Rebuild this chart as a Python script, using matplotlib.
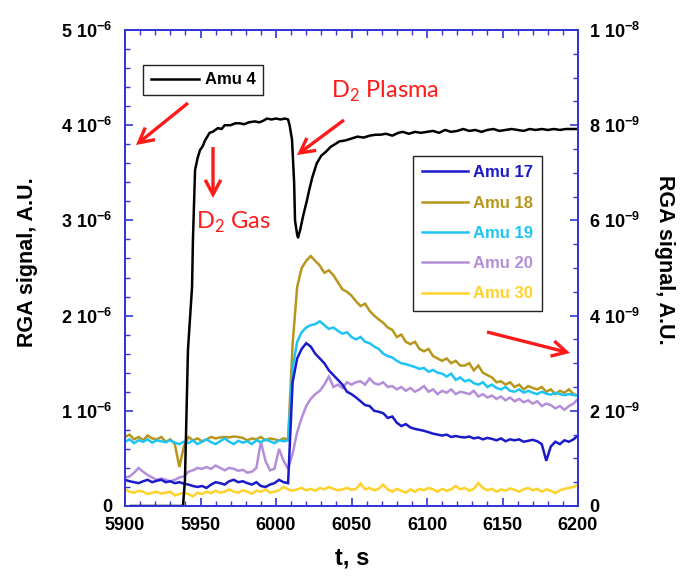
import numpy as np
import matplotlib
matplotlib.use("Agg")
import matplotlib.pyplot as plt
from matplotlib.patches import FancyArrowPatch
from matplotlib.ticker import FixedLocator, FuncFormatter, MultipleLocator

# ---------------- data ----------------
# Amu 4 (left axis, units of 1e-6 A.U.)
t_amu4 = [5904, 5910, 5915, 5920, 5925, 5930, 5935, 5938.4, 5939.7, 5941.7, 5944.4, 5945,
          5946.4, 5948, 5949.7, 5951.5, 5953, 5956, 5958, 5961.6, 5964, 5966, 5970, 5973,
          5976, 5979, 5982, 5986, 5989, 5992, 5994, 5997, 6000, 6003, 6006, 6008, 6009,
          6010.6, 6012, 6012.6, 6014, 6014.6, 6016, 6018, 6020.5, 6022, 6024, 6027, 6030,
          6033, 6036, 6039, 6042, 6046, 6050, 6054, 6058, 6062, 6066, 6069, 6073, 6077,
          6081, 6084, 6088, 6092, 6096, 6100, 6104, 6108, 6112, 6116, 6120, 6124, 6128,
          6132, 6136, 6140, 6144, 6148, 6152, 6156, 6160, 6164, 6168, 6172, 6176, 6180,
          6184, 6188, 6192, 6196, 6200]
amu4 = [0.0, 0.0, 0.0, 0.0, 0.0, 0.0, 0.0, 0.0, 0.27, 1.64, 2.3, 2.8,
        3.53, 3.65, 3.74, 3.78, 3.84, 3.92, 3.93, 3.97, 3.96, 4.0, 4.0, 4.02,
        4.02, 4.01, 4.03, 4.04, 4.03, 4.05, 4.07, 4.06, 4.07, 4.06, 4.07, 4.06, 4.0,
        3.85, 3.4, 3.0, 2.85, 2.82, 2.9, 3.05, 3.21, 3.32, 3.45, 3.6, 3.68,
        3.72, 3.77, 3.8, 3.83, 3.84, 3.86, 3.88, 3.87, 3.89, 3.9, 3.9, 3.91, 3.89,
        3.92, 3.93, 3.91, 3.93, 3.92, 3.93, 3.94, 3.92, 3.95, 3.93, 3.94, 3.96, 3.94,
        3.95, 3.93, 3.95, 3.96, 3.94, 3.95, 3.96, 3.95, 3.94, 3.96, 3.95, 3.96, 3.95,
        3.96, 3.95, 3.96, 3.96, 3.96]

# right-axis series (units of 1e-9 A.U.), sampled every 3 s from 5900 to 6200
t_rga = list(range(5900, 6201, 3))
amu17 = [0.55, 0.52, 0.5, 0.48, 0.52, 0.55, 0.5, 0.53, 0.55, 0.5,
         0.52, 0.48, 0.5, 0.47, 0.45, 0.42, 0.4, 0.42, 0.38, 0.45,
         0.5, 0.48, 0.45, 0.52, 0.55, 0.5, 0.52, 0.48, 0.45, 0.5,
         0.42, 0.4, 0.45, 0.48, 0.55, 0.5, 0.48, 2.6, 3.1, 3.3,
         3.42, 3.35, 3.2, 3.1, 3.0, 2.85, 2.75, 2.65, 2.55, 2.4,
         2.35, 2.28, 2.2, 2.12, 2.1, 2.0, 1.98, 1.95, 1.85, 1.88,
         1.75, 1.68, 1.72, 1.65, 1.62, 1.6, 1.58, 1.55, 1.52, 1.5,
         1.48, 1.5, 1.45, 1.47, 1.45, 1.44, 1.46, 1.42, 1.44, 1.4,
         1.43, 1.41, 1.38, 1.42, 1.36, 1.4, 1.38, 1.4, 1.35, 1.37,
         1.39, 1.36, 1.3, 0.95, 1.25, 1.35, 1.3, 1.38, 1.35, 1.4,
         1.48]
amu18 = [1.45, 1.5, 1.4, 1.45, 1.38, 1.48, 1.42, 1.4, 1.45, 1.35,
         1.4, 1.3, 0.82, 1.25, 1.45, 1.38, 1.42, 1.36, 1.4, 1.45,
         1.42, 1.44, 1.45, 1.44, 1.46, 1.45, 1.43, 1.38, 1.42, 1.4,
         1.45, 1.38, 1.42, 1.4, 1.38, 1.42, 1.4, 3.4, 4.6, 5.0,
         5.15, 5.25, 5.15, 5.05, 4.9, 4.95, 4.85, 4.7, 4.55, 4.5,
         4.42, 4.3, 4.2, 4.25, 4.1, 4.0, 3.92, 3.85, 3.75, 3.7,
         3.55, 3.6, 3.45, 3.4, 3.45, 3.3, 3.25, 3.3, 3.15, 3.1,
         3.05, 3.1, 3.0, 3.05, 2.95, 2.95, 3.0, 2.85, 2.95, 2.8,
         2.75, 2.7, 2.6, 2.62, 2.55, 2.6, 2.5, 2.55, 2.45, 2.52,
         2.48, 2.45, 2.5, 2.4, 2.45, 2.35, 2.42, 2.38, 2.45, 2.35,
         2.32]
amu19 = [1.35, 1.4, 1.32, 1.38, 1.35, 1.4, 1.33, 1.38, 1.36, 1.34,
         1.38, 1.33, 1.3, 1.35, 1.32, 1.38, 1.3, 1.35, 1.4, 1.34,
         1.3, 1.36, 1.42, 1.35, 1.3, 1.37, 1.33, 1.36, 1.3, 1.38,
         1.34, 1.4, 1.36, 1.32, 1.38, 1.36, 1.38, 2.9, 3.45, 3.65,
         3.75, 3.8, 3.82, 3.88, 3.8, 3.72, 3.75, 3.68, 3.62, 3.65,
         3.55, 3.5, 3.55, 3.45, 3.42, 3.35, 3.3, 3.2, 3.15, 3.12,
         3.05, 3.0, 2.98, 2.95, 2.92, 2.88, 2.9, 2.82, 2.86, 2.8,
         2.78, 2.72, 2.78, 2.65, 2.7, 2.62, 2.65, 2.58, 2.55, 2.6,
         2.5, 2.55, 2.48, 2.45, 2.5, 2.42, 2.4, 2.45, 2.38, 2.42,
         2.38, 2.35, 2.4, 2.36, 2.34, 2.38, 2.35, 2.33, 2.35, 2.33,
         2.32]
amu20 = [0.6, 0.62, 0.7, 0.8, 0.72, 0.65, 0.6, 0.55, 0.58, 0.55,
         0.52, 0.55, 0.6, 0.62, 0.72, 0.75, 0.8, 0.78, 0.82, 0.78,
         0.85, 0.8, 0.75, 0.8, 0.78, 0.74, 0.76, 0.7, 0.72, 0.8,
         1.35, 0.95, 0.75, 0.78, 1.2, 0.95, 0.78, 1.1, 1.55, 1.85,
         2.1, 2.25, 2.35, 2.42, 2.55, 2.72, 2.5, 2.55, 2.48, 2.6,
         2.55, 2.6, 2.62, 2.55, 2.68, 2.58, 2.55, 2.6, 2.5, 2.52,
         2.45, 2.5, 2.42, 2.48, 2.4, 2.45, 2.52, 2.4, 2.45, 2.35,
         2.42, 2.38, 2.45, 2.35, 2.4, 2.38, 2.35, 2.42, 2.3, 2.35,
         2.28, 2.32, 2.25, 2.3, 2.22, 2.28, 2.2, 2.25, 2.18, 2.22,
         2.15, 2.2, 2.1, 2.15, 2.12, 2.05, 2.1, 2.02, 2.1, 2.15,
         2.25]
amu30 = [0.35, 0.3, 0.28, 0.32, 0.3, 0.25, 0.28, 0.3, 0.26, 0.28,
         0.3, 0.22, 0.25, 0.28, 0.25, 0.2, 0.28, 0.25, 0.3, 0.27,
         0.32, 0.28, 0.3, 0.35, 0.3, 0.28, 0.33, 0.3, 0.26, 0.32,
         0.3, 0.35, 0.28, 0.3, 0.33, 0.4, 0.35, 0.32, 0.35, 0.38,
         0.33, 0.36, 0.32, 0.38, 0.35, 0.4, 0.36, 0.33, 0.35, 0.38,
         0.34, 0.36, 0.47, 0.35, 0.38, 0.33, 0.36, 0.45, 0.35, 0.3,
         0.36, 0.32, 0.28, 0.35, 0.3, 0.36, 0.33, 0.38, 0.35, 0.3,
         0.36, 0.32, 0.35, 0.42, 0.35, 0.38, 0.32, 0.36, 0.48, 0.38,
         0.33, 0.36, 0.3, 0.35, 0.32, 0.37, 0.34, 0.3, 0.35, 0.38,
         0.33, 0.36, 0.3, 0.35, 0.32, 0.27, 0.33, 0.36, 0.38, 0.4,
         0.45]

rga_series = [("Amu 17", amu17, "#1a1acb"),
              ("Amu 18", amu18, "#b8961c"),
              ("Amu 19", amu19, "#1ec4f4"),
              ("Amu 20", amu20, "#b48ed8"),
              ("Amu 30", amu30, "#ffd22a")]
draw_order = ["Amu 30", "Amu 20", "Amu 18", "Amu 19", "Amu 17"]

x_ticks = [5900, 5950, 6000, 6050, 6100, 6150, 6200]
left_ticks = [0, 1e-6, 2e-6, 3e-6, 4e-6, 5e-6]
right_ticks = [0, 2e-9, 4e-9, 6e-9, 8e-9, 1e-8]

# ---------------- figure ----------------
W, H = 680, 583
fig = plt.figure(figsize=(W / 100, H / 100), dpi=100)
ax = fig.add_axes([125 / W, 1 - 506 / H, (578 - 125) / W, (506 - 30) / H])
ax2 = ax.twinx()

spine_col = "#3434d8"
tick_font = "Liberation Sans"

def sci_label(v):
    if v == 0:
        return "0"
    e = int(np.floor(np.log10(v) + 1e-9))
    m = v / 10 ** e
    return r"%d 10$^{\mathregular{%d}}$" % (round(m), e)

# right-axis lines
lines = {}
for name in draw_order:
    vals, col = [(v, c) for (n, v, c) in rga_series if n == name][0]
    (ln,) = ax2.plot(t_rga, np.array(vals) * 1e-9, color=col, lw=1.8, label=name,
                     solid_joinstyle="miter")
    lines[name] = ln

# left-axis line
(l4,) = ax.plot(t_amu4, np.array(amu4) * 1e-6, color="black", lw=1.8, label="Amu 4")
ax.set_zorder(ax2.get_zorder() + 1)
ax.patch.set_visible(False)

ax.set_xlim(5900, 6200)
ax.set_ylim(0, 5e-6)
ax2.set_ylim(0, 1e-8)

ax.xaxis.set_major_locator(FixedLocator(x_ticks))
ax.xaxis.set_minor_locator(MultipleLocator(10))
ax.yaxis.set_major_locator(FixedLocator(left_ticks))
ax.yaxis.set_minor_locator(MultipleLocator(0.2e-6))
ax2.yaxis.set_major_locator(FixedLocator(right_ticks))
ax2.yaxis.set_minor_locator(MultipleLocator(0.5e-9))

ax.xaxis.set_major_formatter(FuncFormatter(lambda v, p: "%d" % v))
ax.yaxis.set_major_formatter(FuncFormatter(lambda v, p: sci_label(v)))
ax2.yaxis.set_major_formatter(FuncFormatter(lambda v, p: sci_label(v)))

for a in (ax, ax2):
    for s in a.spines.values():
        s.set_color(spine_col)
        s.set_linewidth(1.3)

ax.tick_params(axis="x", which="both", direction="in", top=True, bottom=True,
               colors=spine_col, labelcolor="black")
ax.tick_params(axis="y", which="both", direction="in", left=True, right=False,
               colors=spine_col, labelcolor="black")
ax2.tick_params(axis="y", which="both", direction="in", left=False, right=True,
                colors=spine_col, labelcolor="black")
for a in (ax, ax2):
    a.tick_params(which="major", length=6, width=1.2)
    a.tick_params(which="minor", length=3.5, width=1.0)
ax.tick_params(axis="x", which="major", pad=8)
ax.tick_params(axis="y", which="major", pad=9)
ax2.tick_params(axis="y", which="major", pad=8)

for lab in ax.get_xticklabels() + ax.get_yticklabels() + ax2.get_yticklabels():
    lab.set_fontfamily(tick_font)
    lab.set_fontweight("bold")
    lab.set_fontsize(13)

# axis labels
fig.text(28 / W, 1 - 262 / H, "RGA signal, A.U.", rotation=90, ha="center", va="center",
         fontfamily=tick_font, fontweight="bold", fontsize=15.5)
fig.text(664 / W, 1 - 260 / H, "RGA signal, A.U.", rotation=270, ha="center", va="center",
         fontfamily=tick_font, fontweight="bold", fontsize=15.5)
fig.text(352 / W, 1 - 558 / H, "t, s", ha="center", va="center",
         fontfamily=tick_font, fontweight="bold", fontsize=17)

# legends
leg_font = {"family": tick_font, "weight": "bold", "size": 12}
leg1 = ax.legend(handles=[l4], loc="upper left",
                 bbox_to_anchor=((143 - 125) / 453, (506 - 65) / 476),
                 borderaxespad=0, prop=leg_font, fancybox=False, framealpha=1,
                 edgecolor="#222222", handlelength=2.9, handletextpad=0.35,
                 borderpad=0.45)
leg1.get_frame().set_linewidth(1.0)

handles = [lines[n] for (n, v, c) in rga_series]
leg2 = ax.legend(handles=handles, loc="upper left",
                 bbox_to_anchor=((413 - 125) / 453, (506 - 156) / 476),
                 borderaxespad=0, prop=leg_font, fancybox=False, framealpha=1,
                 edgecolor="#222222", handlelength=2.75, handletextpad=0.3,
                 labelspacing=0.92, borderpad=0.55,
                 labelcolor=[c for (n, v, c) in rga_series])
leg2.get_frame().set_linewidth(1.0)
ax.add_artist(leg1)

# red annotations
def fig_xy(px, py):
    return (px / W, 1 - py / H)

for (x0, y0, x1, y1) in [(188, 103, 136, 145), (344, 120, 297, 155),
                         (213, 147, 213, 198), (487, 332, 570, 353)]:
    fig.add_artist(FancyArrowPatch(
        fig_xy(x0, y0), fig_xy(x1, y1), transform=fig.transFigure,
        arrowstyle="->,head_length=0.75,head_width=0.4", mutation_scale=14,
        color="#ff1a1a", lw=2.4, shrinkA=0, shrinkB=0, joinstyle="miter",
        capstyle="butt"))

red_font = ["Lato", "DejaVu Sans"]
fig.text(*fig_xy(331, 91), r"D$_\mathregular{2}$ Plasma", color="#ff1a1a",
         fontfamily=red_font, fontsize=17, ha="left", va="center")
fig.text(*fig_xy(196, 222), r"D$_\mathregular{2}$ Gas", color="#ff1a1a",
         fontfamily=red_font, fontsize=17, ha="left", va="center")

fig.savefig("out.png", dpi=100)
